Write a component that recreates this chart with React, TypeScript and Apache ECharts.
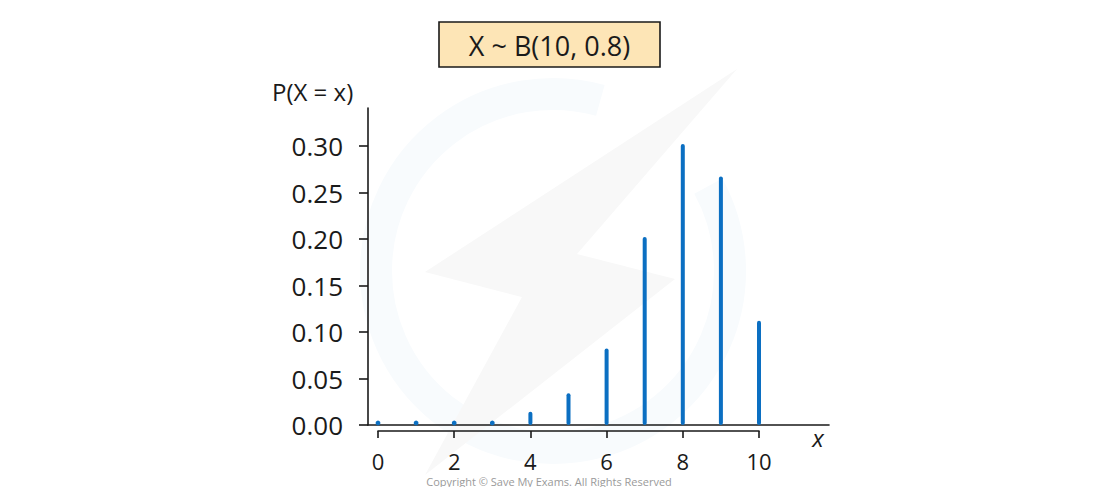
import React, { useEffect, useRef } from "react";
import * as echarts from "echarts";

const xValues = [0, 1, 2, 3, 4, 5, 6, 7, 8, 9, 10];
const probabilities = [0, 0, 0, 0, 0.012, 0.032, 0.08, 0.2, 0.3, 0.265, 0.11];
const yTickValues = [0, 0.05, 0.1, 0.15, 0.2, 0.25, 0.3];
const xTickValues = [0, 2, 4, 6, 8, 10];
const titleText = "X ~ B(10, 0.8)";
const yAxisTitle = "P(X = x)";
const xAxisTitle = "x";
const copyrightText = "Copyright © Save My Exams. All Rights Reserved";

const FONT = "'Open Sans', 'Noto Sans', sans-serif";
const INK = "#1a1a1a";
const BAR = "#0b6fc2";

export default function App() {
  const ref = useRef<HTMLDivElement>(null);
  useEffect(() => {
    if (!ref.current) return;
    const chart = echarts.init(ref.current, null, { renderer: "svg" });
    const x0 = 378;
    const x10 = 759;
    const unit = (x10 - x0) / 10;
    const axisLeft = 368;
    const axisRight = 829;
    const xMin = (axisLeft - x0) / unit;
    const xMax = (axisRight - x0) / unit;
    const yTop = 108;
    const yZero = 425;
    const yPerUnit = 930;
    const yMax = (yZero - yTop) / yPerUnit;

    const option: any = {
      animation: false,
      backgroundColor: "#ffffff",
      grid: [
        { left: axisLeft, width: axisRight - axisLeft, top: yTop, height: yZero - yTop },
        { left: x0, width: x10 - x0, top: 420, height: 11 },
      ],
      xAxis: [
        {
          type: "value",
          gridIndex: 0,
          min: xMin,
          max: xMax,
          axisLine: { show: true, onZero: false, lineStyle: { color: INK, width: 1.6 } },
          axisTick: { show: false },
          axisLabel: { show: false },
          splitLine: { show: false },
        },
        {
          type: "value",
          gridIndex: 1,
          min: 0,
          max: 10,
          interval: 2,
          position: "bottom",
          axisLine: { show: true, onZero: false, lineStyle: { color: INK, width: 1.6 } },
          axisTick: {
            show: true,
            length: 7,
            lineStyle: { color: INK, width: 1.6 },
            customValues: xTickValues,
          },
          axisLabel: {
            show: true,
            customValues: xTickValues,
            color: INK,
            fontSize: 22,
            fontFamily: FONT,
            lineHeight: 20,
            margin: 20,
          },
          splitLine: { show: false },
        },
      ],
      yAxis: [
        {
          type: "value",
          gridIndex: 0,
          min: 0,
          max: yMax,
          axisLine: { show: true, onZero: false, lineStyle: { color: INK, width: 1.6 } },
          axisTick: {
            show: true,
            length: 9,
            lineStyle: { color: INK, width: 1.6 },
            customValues: yTickValues,
          },
          axisLabel: {
            show: true,
            customValues: yTickValues,
            color: INK,
            fontSize: 26,
            fontFamily: FONT,
            margin: 25,
            formatter: (v: number) => v.toFixed(2),
          },
          splitLine: { show: false },
        },
        {
          type: "value",
          gridIndex: 1,
          show: false,
          min: 0,
          max: 1,
        },
      ],
      graphic: [
        {
          type: "arc",
          silent: true,
          z: -10,
          shape: { cx: 553, cy: 271, r: 177, startAngle: -0.5, endAngle: -1.3, clockwise: true },
          style: { stroke: "#f8fbfd", lineWidth: 32, fill: "none" },
        },
        {
          type: "polygon",
          silent: true,
          z: -9,
          shape: {
            points: [
              [737, 69],
              [577, 254],
              [675, 279],
              [425, 475],
              [522, 297],
              [425, 272],
            ],
          },
          style: { fill: "#f8f8f8" },
        },
        {
          type: "rect",
          shape: { x: 439, y: 22, width: 221, height: 45 },
          style: { fill: "#fde5b6", stroke: INK, lineWidth: 1.6 },
        },
        {
          type: "text",
          x: 549.5,
          y: 45,
          style: {
            text: titleText,
            fill: INK,
            fontSize: 27,
            fontFamily: FONT,
            align: "center",
            verticalAlign: "middle",
          },
        },
        {
          type: "text",
          x: 272,
          y: 91,
          style: {
            text: yAxisTitle,
            fill: INK,
            fontSize: 24,
            fontFamily: FONT,
            align: "left",
            verticalAlign: "middle",
          },
        },
        {
          type: "text",
          x: 818,
          y: 437,
          style: {
            text: xAxisTitle,
            fill: INK,
            fontSize: 24,
            fontFamily: FONT,
            fontStyle: "italic",
            align: "center",
            verticalAlign: "middle",
          },
        },
        {
          type: "text",
          x: 549,
          y: 481,
          z: 10,
          style: {
            text: copyrightText,
            fill: "#9a9a9a",
            fontSize: 11,
            fontFamily: FONT,
            align: "center",
            verticalAlign: "middle",
          },
        },
      ],
      series: [
        {
          type: "custom",
          xAxisIndex: 0,
          yAxisIndex: 0,
          data: xValues.map((x, i) => [x, probabilities[i]]),
          renderItem: (params: any, api: any) => {
            const top = api.coord([api.value(0), api.value(1)]);
            const base = api.coord([api.value(0), 0]);
            const bottomY = base[1] - 2;
            if (bottomY - top[1] < 2) {
              return {
                type: "circle",
                shape: { cx: top[0], cy: bottomY, r: 2.4 },
                style: { fill: BAR },
              };
            }
            return {
              type: "line",
              shape: { x1: top[0], y1: top[1], x2: top[0], y2: bottomY },
              style: { stroke: BAR, lineWidth: 4, lineCap: "round" },
            };
          },
        },
      ],
    };
    chart.setOption(option);
    return () => chart.dispose();
  }, []);
  return (
    <div
      ref={ref}
      style={{ position: "fixed", left: 0, top: 0, width: 1100, height: 487 }}
    />
  );
}
